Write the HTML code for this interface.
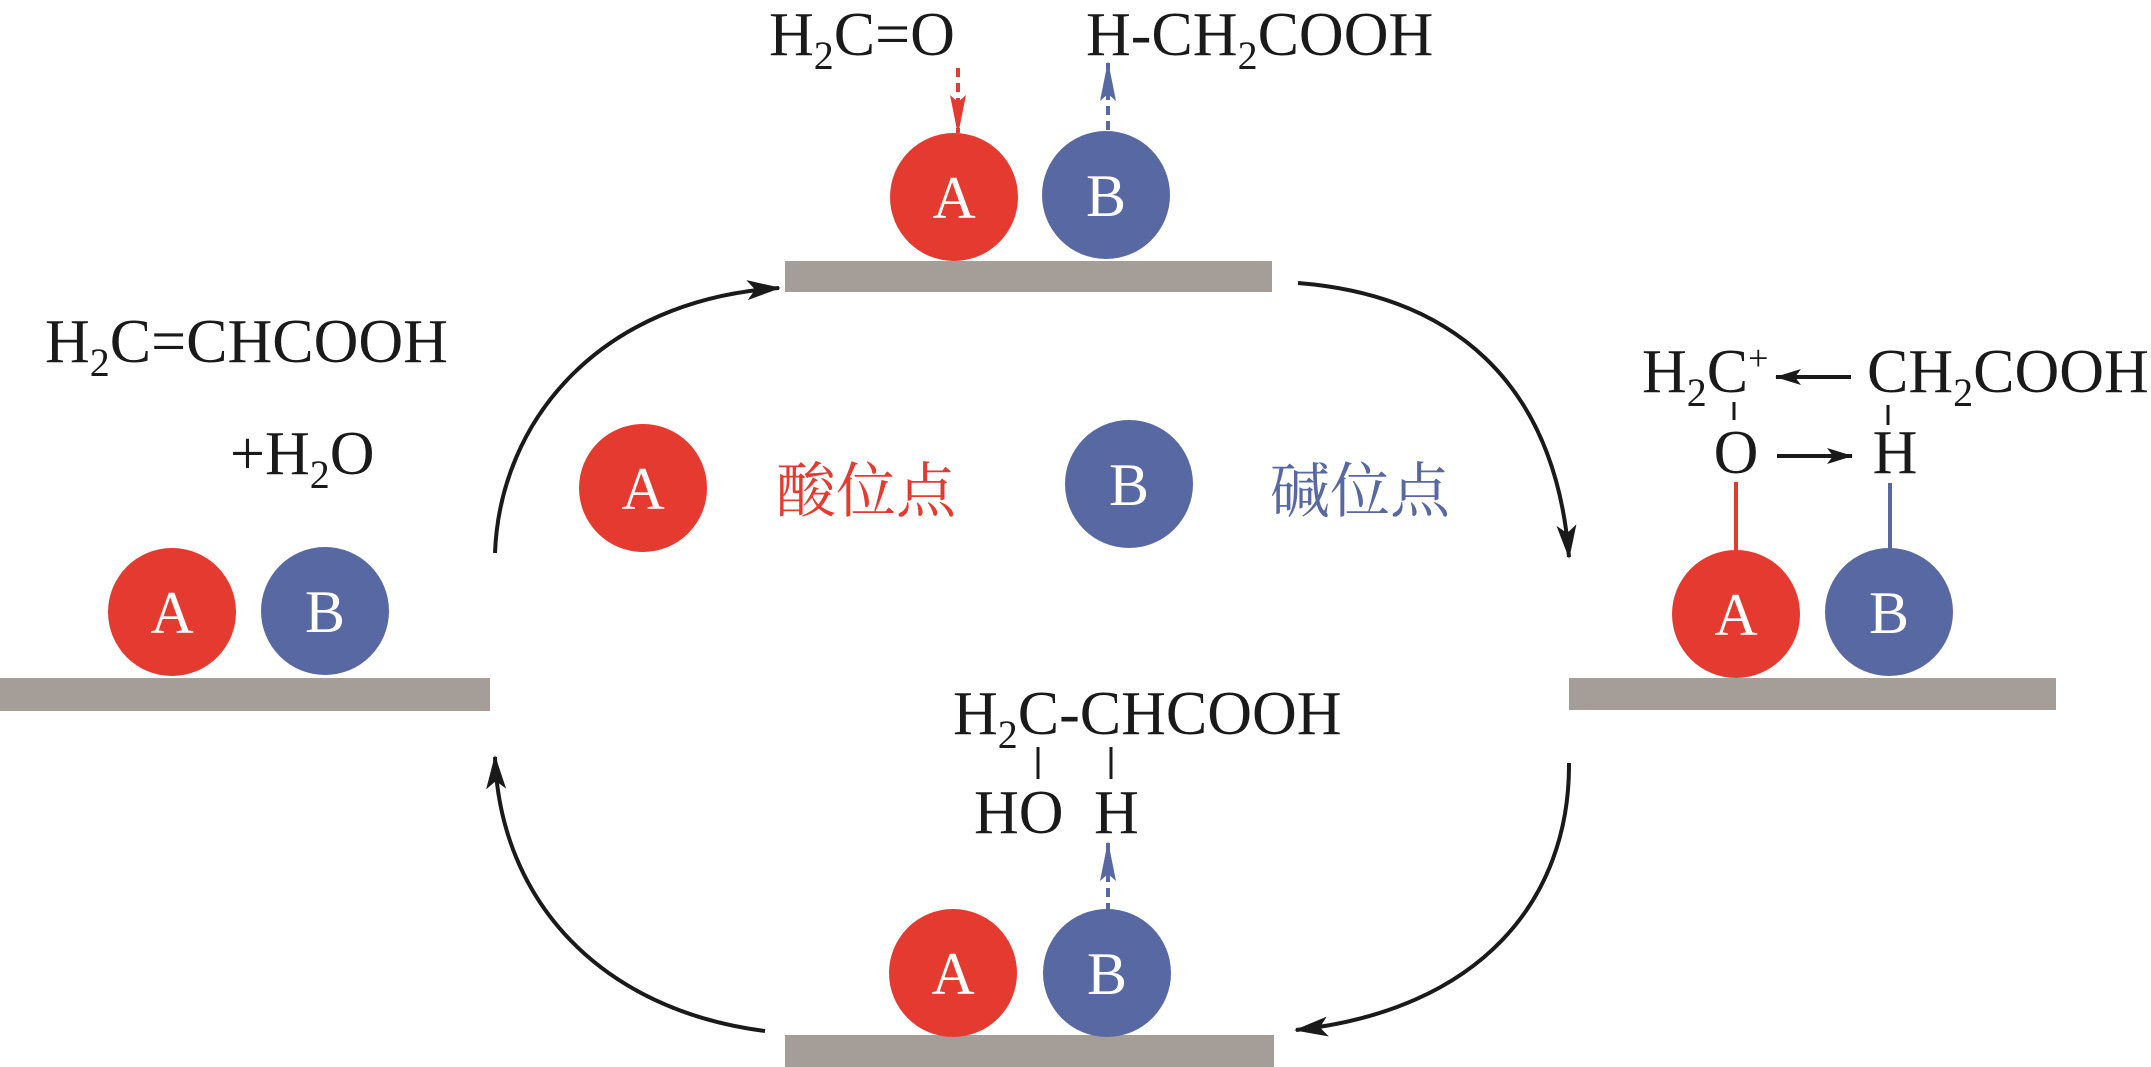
<!DOCTYPE html>
<html><head><meta charset="utf-8"><style>
html,body{margin:0;padding:0;background:#fff;}
svg{display:block;}
text{font-family:"Liberation Serif","Noto Serif CJK SC",serif;}
.t{font-size:62px;fill:#1a1a1a;}
.w{font-size:60px;fill:#fff;text-anchor:middle;}
</style></head><body>
<svg width="2151" height="1067" viewBox="0 0 2151 1067" xmlns="http://www.w3.org/2000/svg">
<defs>
<marker id="ah" markerWidth="34" markerHeight="24" refX="32" refY="12" orient="auto" markerUnits="userSpaceOnUse">
<path d="M0,2 L34,12 L0,22 L8,12 Z" fill="#1a1a1a"/></marker>
<marker id="sh" markerWidth="26" markerHeight="18" refX="25" refY="9" orient="auto" markerUnits="userSpaceOnUse">
<path d="M0,1 L26,9 L0,17 L6,9 Z" fill="#1a1a1a"/></marker>
<marker id="rh" markerWidth="40" markerHeight="16" refX="38" refY="8" orient="auto" markerUnits="userSpaceOnUse">
<path d="M0,0 L40,8 L0,16 L7,8 Z" fill="#e53a30"/></marker>
<marker id="bh" markerWidth="40" markerHeight="16" refX="38" refY="8" orient="auto" markerUnits="userSpaceOnUse">
<path d="M0,0 L40,8 L0,16 L7,8 Z" fill="#5868a2"/></marker>
</defs>

<!-- bars -->
<rect x="0" y="678" width="490" height="33" fill="#a59d98"/>
<rect x="785" y="261" width="487" height="31" fill="#a59d98"/>
<rect x="1569" y="678" width="487" height="32" fill="#a59d98"/>
<rect x="785" y="1035" width="489" height="32" fill="#a59d98"/>

<!-- curves -->
<g fill="none" stroke="#1a1a1a" stroke-width="4">
<path d="M495,553 C500,420 600,300 779,288" marker-end="url(#ah)"/>
<path d="M1298,283 C1450,295 1555,380 1569,557" marker-end="url(#ah)"/>
<path d="M1569,763 C1570,900 1480,1010 1296,1030" marker-end="url(#ah)"/>
<path d="M765,1031 C600,1010 500,900 495,757" marker-end="url(#ah)"/>
</g>

<!-- left -->
<circle cx="172" cy="612" r="64" fill="#e53a30"/><text class="w" x="172" y="633">A</text>
<circle cx="325" cy="611" r="64" fill="#5868a2"/><text class="w" x="325" y="632">B</text>
<text class="t" x="45" y="362">H<tspan font-size="40" dy="14">2</tspan><tspan dy="-14">C=CHCOOH</tspan></text>
<text class="t" x="230" y="474">+H<tspan font-size="40" dy="14">2</tspan><tspan dy="-14">O</tspan></text>

<!-- top -->
<circle cx="954" cy="197" r="64" fill="#e53a30"/><text class="w" x="954" y="218">A</text>
<circle cx="1106" cy="195" r="64" fill="#5868a2"/><text class="w" x="1106" y="216">B</text>
<text class="t" x="769" y="55">H<tspan font-size="40" dy="14">2</tspan><tspan dy="-14">C=O</tspan></text>
<text class="t" x="1086" y="55">H-CH<tspan font-size="40" dy="14">2</tspan><tspan dy="-14">COOH</tspan></text>
<line x1="958" y1="68" x2="958" y2="133" stroke="#e53a30" stroke-width="4" stroke-dasharray="9,6" marker-end="url(#rh)"/>
<line x1="1108" y1="130" x2="1108" y2="63" stroke="#5868a2" stroke-width="4" stroke-dasharray="9,6" marker-end="url(#bh)"/>

<!-- legend -->
<circle cx="643" cy="488" r="64" fill="#e53a30"/><text class="w" x="643" y="509">A</text>
<text x="776" y="512" font-size="60" fill="#e53a30" style="font-family:'Noto Serif CJK SC','Noto Sans CJK SC',serif">酸位点</text>
<circle cx="1129" cy="484" r="64" fill="#5868a2"/><text class="w" x="1129" y="505">B</text>
<text x="1270" y="512" font-size="60" fill="#5868a2" style="font-family:'Noto Serif CJK SC','Noto Sans CJK SC',serif">碱位点</text>

<!-- right -->
<circle cx="1736" cy="614" r="64" fill="#e53a30"/><text class="w" x="1736" y="635">A</text>
<circle cx="1889" cy="612" r="64" fill="#5868a2"/><text class="w" x="1889" y="633">B</text>
<line x1="1736" y1="482" x2="1736" y2="552" stroke="#e53a30" stroke-width="4"/>
<line x1="1890" y1="483" x2="1890" y2="550" stroke="#5868a2" stroke-width="4"/>
<text class="t" x="1642" y="392">H<tspan font-size="40" dy="14">2</tspan><tspan dy="-14">C</tspan><tspan font-size="36" dy="-22">+</tspan></text>
<text class="t" x="1867" y="392">CH<tspan font-size="40" dy="14">2</tspan><tspan dy="-14">COOH</tspan></text>
<text class="t" x="1736" y="473" text-anchor="middle">O</text>
<text class="t" x="1895" y="473" text-anchor="middle">H</text>
<line x1="1734" y1="402" x2="1734" y2="420" stroke="#1a1a1a" stroke-width="3"/>
<line x1="1888" y1="405" x2="1888" y2="425" stroke="#1a1a1a" stroke-width="3"/>
<line x1="1851" y1="377" x2="1776" y2="377" stroke="#1a1a1a" stroke-width="4" marker-end="url(#sh)"/>
<line x1="1777" y1="456" x2="1852" y2="456" stroke="#1a1a1a" stroke-width="4" marker-end="url(#sh)"/>

<!-- bottom -->
<circle cx="953" cy="973" r="64" fill="#e53a30"/><text class="w" x="953" y="994">A</text>
<circle cx="1107" cy="973" r="64" fill="#5868a2"/><text class="w" x="1107" y="994">B</text>
<text class="t" x="953" y="734">H<tspan font-size="40" dy="14">2</tspan><tspan dy="-14">C-CHCOOH</tspan></text>
<line x1="1038" y1="747" x2="1038" y2="779" stroke="#1a1a1a" stroke-width="3"/>
<line x1="1111" y1="747" x2="1111" y2="779" stroke="#1a1a1a" stroke-width="3"/>
<text class="t" x="974" y="833">HO</text>
<text class="t" x="1094" y="833">H</text>
<line x1="1108" y1="912" x2="1108" y2="843" stroke="#5868a2" stroke-width="4" stroke-dasharray="9,6" marker-end="url(#bh)"/>
</svg>
</body></html>
